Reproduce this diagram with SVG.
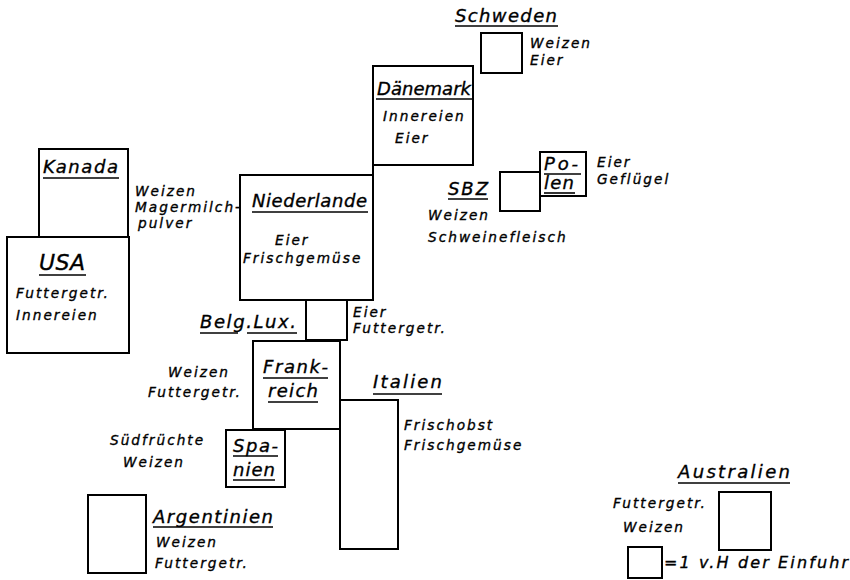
<svg xmlns="http://www.w3.org/2000/svg" width="850" height="580" viewBox="0 0 850 580">
<style>
.box{fill:none;stroke:#000;stroke-width:2}
.ul{stroke:#000;stroke-width:1.6}
text{font-family:"DejaVu Sans","Liberation Sans",sans-serif;font-style:italic;fill:#000;stroke:#000;stroke-width:0.35}
.lab{font-size:18px}
.big{font-size:22px}
.it{font-size:13.7px;letter-spacing:2px}
.leg{font-size:16px}
</style>
<rect width="850" height="580" fill="#fff"/>
<g id="schweden">
<text class="lab" x="455" y="22" textLength="102">Schweden</text>
<line class="ul" x1="455" y1="26" x2="558" y2="26"/>
<rect class="box" x="481" y="33" width="41" height="40"/>
<text class="it" x="530" y="48">Weizen</text>
<text class="it" x="530" y="65">Eier</text>
</g>
<g id="daenemark">
<rect class="box" x="373" y="66" width="100" height="99"/>
<text class="lab" x="377" y="95" textLength="94">Dänemark</text>
<line class="ul" x1="376" y1="99" x2="472" y2="99"/>
<text class="it" x="383" y="121">Innereien</text>
<text class="it" x="395" y="143">Eier</text>
</g>
<g id="kanada">
<rect class="box" x="39" y="149" width="89" height="88"/>
<text class="lab" x="43" y="173" textLength="75">Kanada</text>
<line class="ul" x1="43" y1="178" x2="119" y2="178"/>
<text class="it" x="135" y="196">Weizen</text>
<text class="it" x="135" y="212">Magermilch-</text>
<text class="it" x="138" y="228">pulver</text>
</g>
<g id="usa">
<rect class="box" x="7" y="237" width="122" height="116"/>
<text class="big" x="39" y="270" textLength="46">USA</text>
<line class="ul" x1="39" y1="275" x2="86" y2="275"/>
<text class="it" x="16" y="298">Futtergetr.</text>
<text class="it" x="16" y="320">Innereien</text>
</g>
<g id="niederlande">
<rect class="box" x="240" y="175" width="133" height="125"/>
<line class="box" x1="373" y1="165" x2="373" y2="175"/>
<text class="lab" x="252" y="207" textLength="115">Niederlande</text>
<line class="ul" x1="252" y1="212" x2="368" y2="212"/>
<text class="it" x="275" y="245">Eier</text>
<text class="it" x="243" y="263">Frischgemüse</text>
</g>
<g id="sbz">
<text class="lab" x="448" y="195" textLength="40">SBZ</text>
<line class="ul" x1="448" y1="199" x2="488" y2="199"/>
<rect class="box" x="500" y="172" width="40" height="39"/>
<text class="it" x="428" y="220">Weizen</text>
<text class="it" x="428" y="242">Schweinefleisch</text>
</g>
<g id="polen">
<rect class="box" x="540" y="152" width="46" height="44"/>
<text class="lab" x="544" y="170" textLength="34">Po-</text>
<line class="ul" x1="544" y1="174" x2="581" y2="174"/>
<text class="lab" x="544" y="189" textLength="30">len</text>
<line class="ul" x1="544" y1="193" x2="575" y2="193"/>
<text class="it" x="597" y="167">Eier</text>
<text class="it" x="597" y="184">Geflügel</text>
</g>
<g id="belglux">
<rect class="box" x="306" y="300" width="41" height="40"/>
<text class="lab" x="200" y="328" textLength="96">Belg.Lux.</text>
<line class="ul" x1="200" y1="333" x2="238" y2="333"/>
<line class="ul" x1="247" y1="333" x2="297" y2="333"/>
<text class="it" x="353" y="317">Eier</text>
<text class="it" x="353" y="333">Futtergetr.</text>
</g>
<g id="frankreich">
<rect class="box" x="253" y="341" width="87" height="88"/>
<text class="lab" x="263" y="373" textLength="65">Frank-</text>
<line class="ul" x1="263" y1="378" x2="328" y2="378"/>
<text class="lab" x="268" y="397" textLength="50">reich</text>
<line class="ul" x1="268" y1="402" x2="318" y2="402"/>
<text class="it" x="168" y="377">Weizen</text>
<text class="it" x="148" y="397">Futtergetr.</text>
</g>
<g id="italien">
<rect class="box" x="340" y="400" width="58" height="149"/>
<text class="lab" x="373" y="388" textLength="69">Italien</text>
<line class="ul" x1="373" y1="394" x2="442" y2="394"/>
<text class="it" x="404" y="430">Frischobst</text>
<text class="it" x="404" y="450">Frischgemüse</text>
</g>
<g id="spanien">
<rect class="box" x="226" y="430" width="59" height="57"/>
<text class="lab" x="233" y="452" textLength="45">Spa-</text>
<line class="ul" x1="233" y1="456" x2="278" y2="456"/>
<text class="lab" x="233" y="476" textLength="42">nien</text>
<line class="ul" x1="233" y1="480" x2="275" y2="480"/>
<text class="it" x="110" y="445">Südfrüchte</text>
<text class="it" x="123" y="467">Weizen</text>
</g>
<g id="argentinien">
<rect class="box" x="88" y="495" width="58" height="78"/>
<text class="lab" x="153" y="523" textLength="120">Argentinien</text>
<line class="ul" x1="153" y1="527" x2="273" y2="527"/>
<text class="it" x="156" y="547">Weizen</text>
<text class="it" x="155" y="568">Futtergetr.</text>
</g>
<g id="australien">
<text class="lab" x="678" y="478" textLength="112">Australien</text>
<line class="ul" x1="678" y1="483" x2="790" y2="483"/>
<rect class="box" x="719" y="492" width="52" height="58"/>
<text class="it" x="613" y="508">Futtergetr.</text>
<text class="it" x="623" y="532">Weizen</text>
</g>
<g id="legende">
<rect class="box" x="628" y="547" width="34" height="31"/>
<text class="leg" x="664" y="568" textLength="184">=1 v.H der Einfuhr</text>
</g>
</svg>
